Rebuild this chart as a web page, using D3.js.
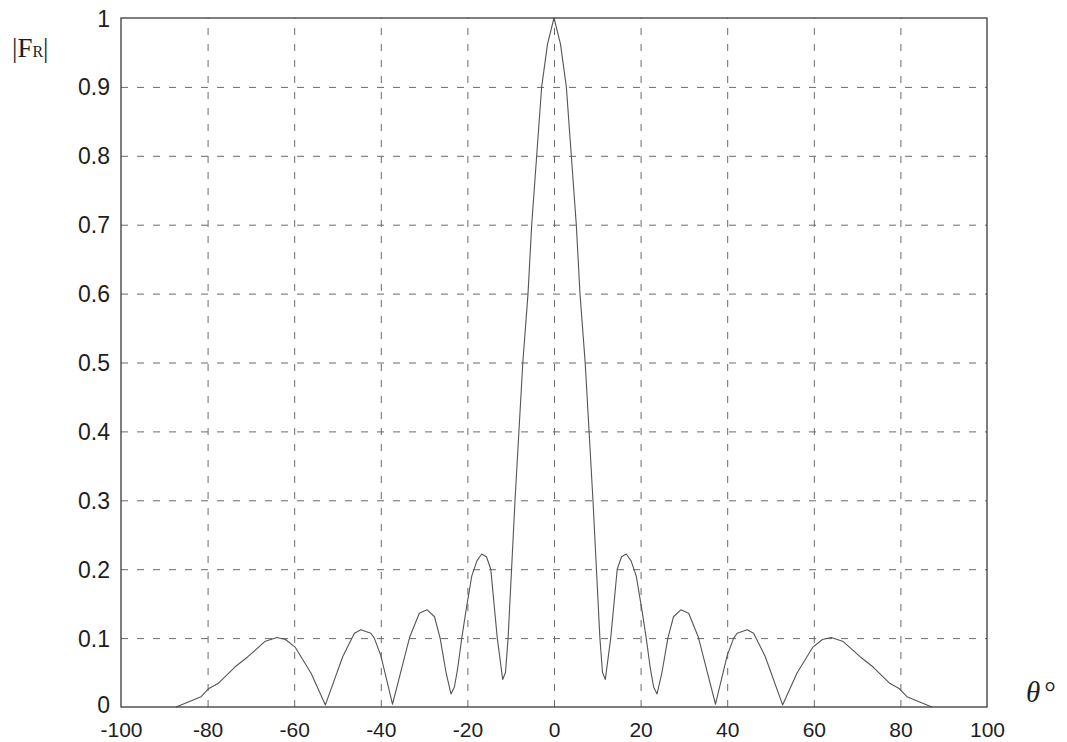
<!DOCTYPE html>
<html>
<head>
<meta charset="utf-8">
<script src="https://cdn.jsdelivr.net/npm/d3@7/dist/d3.min.js"></script>
<style>
  html, body { margin: 0; padding: 0; background: #fff; }
  svg { display: block; }
</style>
</head>
<body>
<svg id="chart" width="1067" height="742"></svg>
<script>
// ---- data ----
const thetaDeg = [
  -87.3, -85.3, -81.5, -79.7, -77.6, -73.7, -70.7, -66.8, -64.0, -62.0, -59.8, -56.1, -52.8,
  -48.8, -46.1, -44.6, -42.3, -41.5, -40.0, -37.3,
  -34.9, -33.3, -31.1, -29.3, -27.6, -26.3, -24.9, -23.8,
  -23.0, -22.2, -21.3, -20.3, -19.0, -17.8, -16.7, -15.6, -14.6, -13.1, -11.85,
  -11.2, -10.6, -9.8, -9.0, -8.1, -7.2, -6.0, -5.15, -4.0, -2.85, -1.5,
  0,
  1.5, 2.85, 4.0, 5.15, 6.0, 7.2, 8.1, 9.0, 9.8, 10.6, 11.2,
  11.85, 13.1, 14.6, 15.6, 16.7, 17.8, 19.0, 20.3, 21.3, 22.2, 23.0,
  23.8, 24.9, 26.3, 27.6, 29.3, 31.1, 33.3, 34.9,
  37.3, 40.0, 41.5, 42.3, 44.6, 46.1, 48.8,
  52.8, 56.1, 59.8, 62.0, 64.0, 66.8, 70.7, 73.7, 77.6, 79.7, 81.5, 85.3, 87.3
];
const magnitude = [
  0.000, 0.005, 0.015, 0.027, 0.034, 0.058, 0.073, 0.095, 0.101, 0.098, 0.087, 0.049, 0.003,
  0.073, 0.107, 0.112, 0.107, 0.100, 0.075, 0.004,
  0.063, 0.102, 0.136, 0.141, 0.131, 0.100, 0.049, 0.019,
  0.029, 0.058, 0.100, 0.141, 0.190, 0.212, 0.222, 0.218, 0.200, 0.100, 0.040,
  0.050, 0.100, 0.200, 0.300, 0.400, 0.500, 0.600, 0.700, 0.800, 0.900, 0.962,
  1.000,
  0.962, 0.900, 0.800, 0.700, 0.600, 0.500, 0.400, 0.300, 0.200, 0.100, 0.050,
  0.040, 0.100, 0.200, 0.218, 0.222, 0.212, 0.190, 0.141, 0.100, 0.058, 0.029,
  0.019, 0.049, 0.100, 0.131, 0.141, 0.136, 0.102, 0.063,
  0.004, 0.075, 0.100, 0.107, 0.112, 0.107, 0.073,
  0.003, 0.049, 0.087, 0.098, 0.101, 0.095, 0.073, 0.058, 0.034, 0.027, 0.015, 0.005, 0.000
];
const xTicks = [-100, -80, -60, -40, -20, 0, 20, 40, 60, 80, 100];
const yTicks = [0, 0.1, 0.2, 0.3, 0.4, 0.5, 0.6, 0.7, 0.8, 0.9, 1];
const xTickLabels = ["-100", "-80", "-60", "-40", "-20", "0", "20", "40", "60", "80", "100"];
const yTickLabels = ["0", "0.1", "0.2", "0.3", "0.4", "0.5", "0.6", "0.7", "0.8", "0.9", "1"];

// ---- layout ----
const pL = 121, pR = 987, pT = 18, pB = 707;
const svg = d3.select("#chart");

const x = d3.scaleLinear().domain([-100, 100]).range([pL, pR]);
const y = d3.scaleLinear().domain([0, 1]).range([pB, pT]);

const gridColor = "#6a6a6a";
const axisColor = "#3a3a3a";
const textColor = "#1e1e1e";

// grid lines (vertical)
svg.append("g")
  .attr("transform", `translate(0,${pB})`)
  .call(d3.axisBottom(x).tickValues(xTicks.slice(1, -1)).tickSize(-(pB - pT)).tickFormat(""))
  .call(g => g.select(".domain").remove())
  .call(g => g.selectAll(".tick line")
    .attr("stroke", gridColor).attr("stroke-width", 1).attr("stroke-dasharray", "7,9"));

// grid lines (horizontal)
svg.append("g")
  .attr("transform", `translate(${pL},0)`)
  .call(d3.axisLeft(y).tickValues(yTicks.slice(1, -1)).tickSize(-(pR - pL)).tickFormat(""))
  .call(g => g.select(".domain").remove())
  .call(g => g.selectAll(".tick line")
    .attr("stroke", gridColor).attr("stroke-width", 1).attr("stroke-dasharray", "7,9"));

// x axis labels
svg.append("g")
  .attr("transform", `translate(0,${pB})`)
  .call(d3.axisBottom(x).tickValues(xTicks).tickSize(0).tickPadding(15)
    .tickFormat((d, i) => xTickLabels[i]))
  .call(g => g.select(".domain").remove())
  .call(g => g.selectAll(".tick text")
    .attr("fill", textColor)
    .style("font-family", "'Liberation Sans', Arial, sans-serif")
    .style("font-size", "21px")
    .attr("dy", "0.71em"));

// y axis labels
svg.append("g")
  .attr("transform", `translate(${pL},0)`)
  .call(d3.axisLeft(y).tickValues(yTicks).tickSize(0).tickPadding(11)
    .tickFormat((d, i) => yTickLabels[i]))
  .call(g => g.select(".domain").remove())
  .call(g => g.selectAll(".tick text")
    .attr("fill", textColor)
    .style("font-family", "'Liberation Sans', Arial, sans-serif")
    .style("font-size", "23px")
    .attr("dy", (d, i) => i === 0 ? "0.25em" : "0.35em"));

// data line
const pts = thetaDeg.map((t, i) => [t, magnitude[i]]);
const line = d3.line().x(d => x(d[0])).y(d => y(d[1]));
svg.append("path")
  .datum(pts)
  .attr("d", line)
  .attr("fill", "none")
  .attr("stroke", "#555")
  .attr("stroke-width", 1.1)
  .attr("stroke-linejoin", "round");

// plot box
svg.append("rect")
  .attr("x", pL).attr("y", pT)
  .attr("width", pR - pL).attr("height", pB - pT)
  .attr("fill", "none")
  .attr("stroke", axisColor)
  .attr("stroke-width", 1.3);

// y axis title |F_R|
const yt = svg.append("text")
  .attr("x", 12).attr("y", 57)
  .attr("fill", textColor)
  .style("font-family", "'Liberation Serif', 'Times New Roman', serif")
  .style("font-size", "27px");
yt.append("tspan").text("|F");
yt.append("tspan").style("font-size", "16px").text("R");
yt.append("tspan").text("|");

// x axis title θ°
const xt = svg.append("text")
  .attr("x", 1026).attr("y", 702)
  .attr("fill", textColor)
  .style("font-family", "'Liberation Serif', 'Times New Roman', serif")
  .style("font-size", "29px");
xt.append("tspan").style("font-style", "italic").text("θ");
xt.append("tspan").attr("dx", 4).text("°");
</script>
</body>
</html>
